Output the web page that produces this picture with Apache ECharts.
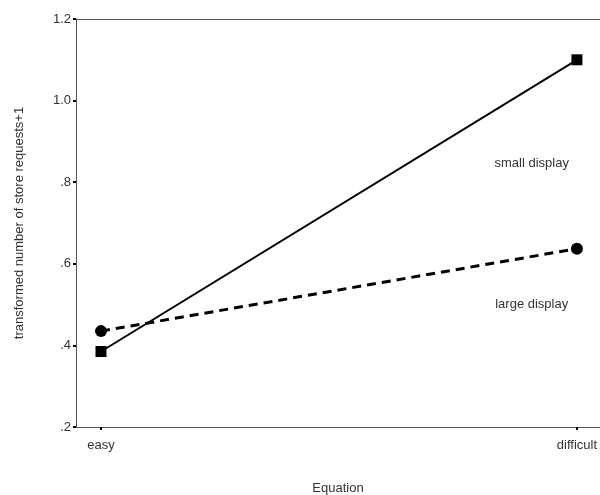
<!DOCTYPE html>
<html>
<head>
<meta charset="utf-8">
<script src="https://cdn.jsdelivr.net/npm/echarts@6/dist/echarts.min.js"></script>
<style>html,body{margin:0;padding:0;background:#fff}#c{width:600px;height:495px}</style>
</head>
<body>
<div id="c"></div>
<script>
const categories = ['easy', 'difficult'];
const categoryPos = [0, 1];
const smallDisplay = [0.385, 1.10];
const largeDisplay = [0.435, 0.637];
const yTicks = [0.2, 0.4, 0.6, 0.8, 1.0, 1.2];
const yTickLabels = ['.2', '.4', '.6', '.8', '1.0', '1.2'];
const seriesNames = ['small display', 'large display'];
const labelAnchors = [[0.905, 0.845], [0.905, 0.5]];

const chart = echarts.init(document.getElementById('c'));
const font = 'Liberation Sans, Arial, sans-serif';
const textColor = '#333';
const fs = 13;
chart.setOption({
  animation: false,
  grid: { left: 76, right: 0, top: 19, bottom: 68, containLabel: false, outerBoundsMode: 'none' },
  xAxis: [{
    type: 'value', min: -0.0525, max: 1.0485,
    name: 'Equation', nameLocation: 'middle', nameGap: 55,
    nameTextStyle: { fontFamily: font, fontSize: fs, color: textColor },
    axisLine: { show: true, onZero: false, lineStyle: { color: '#555', width: 1 } },
    axisTick: { show: true, customValues: categoryPos, length: 3, lineStyle: { color: '#000', width: 2 } },
    axisLabel: { customValues: categoryPos, margin: 12, fontFamily: font, fontSize: fs, color: textColor,
      formatter: v => categories[categoryPos.indexOf(Math.round(v))] || '' },
    splitLine: { show: false }
  }, {
    type: 'value', position: 'top', min: -0.0525, max: 1.0485,
    axisLine: { show: true, onZero: false, lineStyle: { color: '#555', width: 1 } },
    axisTick: { show: false }, axisLabel: { show: false }, splitLine: { show: false }
  }],
  yAxis: {
    type: 'value', min: 0.2, max: 1.2, interval: 0.2,
    name: 'transformed number of store requests+1', nameLocation: 'middle', nameGap: 50,
    nameTextStyle: { fontFamily: font, fontSize: fs, color: textColor },
    axisLine: { show: true, onZero: false, lineStyle: { color: '#555', width: 1 } },
    axisTick: { show: true, length: 3, lineStyle: { color: '#000', width: 2 } },
    axisLabel: { margin: 5, fontFamily: font, fontSize: fs, color: textColor,
      formatter: v => { const i = yTicks.findIndex(t => Math.abs(t - v) < 1e-6); return i >= 0 ? yTickLabels[i] : ''; } },
    splitLine: { show: false }
  },
  series: [{
    name: seriesNames[0], type: 'line',
    data: categoryPos.map((x, i) => [x, smallDisplay[i]]),
    symbol: 'rect', symbolSize: 11, showAllSymbol: true,
    itemStyle: { color: '#000' },
    lineStyle: { color: '#000', width: 2, type: 'solid' },
    markPoint: { symbol: 'circle', symbolSize: 1, itemStyle: { color: 'rgba(0,0,0,0)' },
      data: [{ coord: labelAnchors[0], value: seriesNames[0] }],
      label: { show: true, position: 'inside', formatter: seriesNames[0], fontFamily: font, fontSize: fs, color: textColor } }
  }, {
    name: seriesNames[1], type: 'line',
    data: categoryPos.map((x, i) => [x, largeDisplay[i]]),
    symbol: 'circle', symbolSize: 12, showAllSymbol: true,
    itemStyle: { color: '#000' },
    lineStyle: { color: '#000', width: 3, type: [9, 6] },
    markPoint: { symbol: 'circle', symbolSize: 1, itemStyle: { color: 'rgba(0,0,0,0)' },
      data: [{ coord: labelAnchors[1], value: seriesNames[1] }],
      label: { show: true, position: 'inside', formatter: seriesNames[1], fontFamily: font, fontSize: fs, color: textColor } }
  }]
});
</script>
</body>
</html>
